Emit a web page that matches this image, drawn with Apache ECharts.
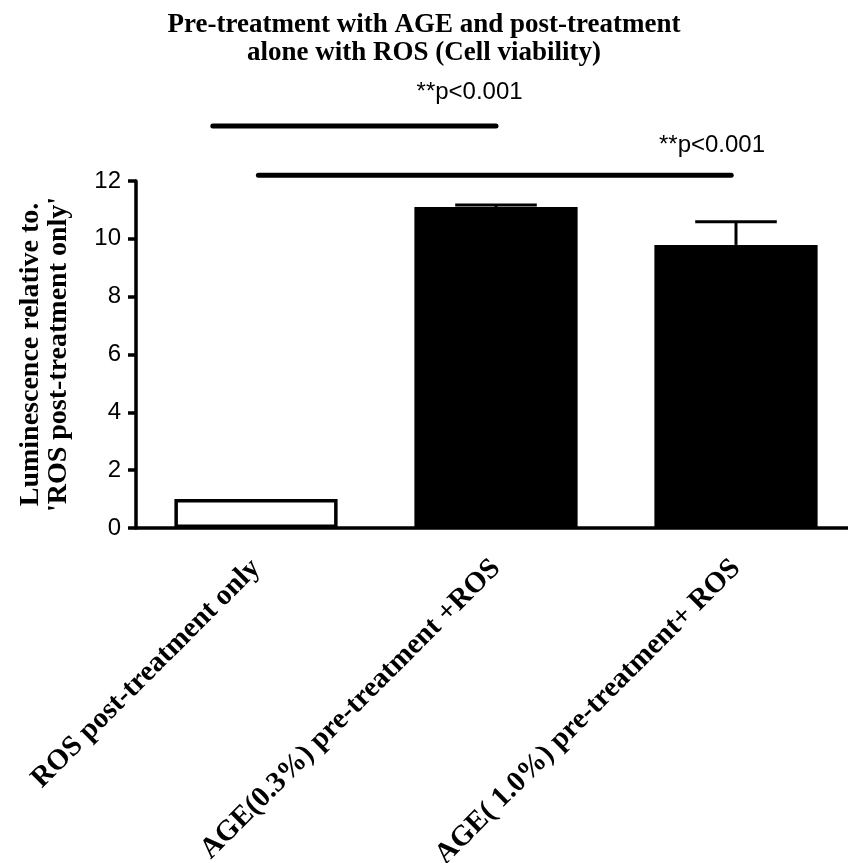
<!DOCTYPE html>
<html>
<head>
<meta charset="utf-8">
<script src="https://cdn.jsdelivr.net/npm/echarts@6/dist/echarts.min.js"></script>
<style>html,body{margin:0;padding:0;background:#fff}#c{width:848px;height:863px}</style>
</head>
<body>
<div id="c"></div>
<script>
const categories = ["ROS post-treatment only", "AGE(0.3%) pre-treatment +ROS", "AGE( 1.0%) pre-treatment+ ROS"];
const means = [1.0, 11.1, 9.79];
const sems = [0.0, 0.07, 0.8];
const barColors = ["#ffffff", "#000000", "#000000"];
const yTicks = [0, 2, 4, 6, 8, 10, 12];
// significance brackets (category positions and y values in data units)
const sigFrom = [-0.18, 0.01];
const sigTo = [1, 1.98];
const sigY = [13.9, 12.2];
const sigLabels = ["**p<0.001", "**p<0.001"];
const sigLabelX = [0.89, 1.9];
const sigLabelY = [15.05, 13.22];

const chart = echarts.init(document.getElementById('c'));
const serif = '"Liberation Serif", "DejaVu Serif", serif';
const sans = '"Liberation Sans", Arial, sans-serif';

function xAt(api, pos) {
  const n = Math.max(0, Math.min(categories.length - 1, Math.round(pos)));
  const base = api.coord([n, 0])[0];
  const bw = api.size([1, 0])[0];
  return base + (pos - n) * bw;
}

chart.setOption({
  animation: false,
  backgroundColor: '#fff',
  title: {
    text: 'Pre-treatment with AGE and post-treatment\nalone with ROS (Cell viability)',
    left: 'center', top: 6,
    textStyle: { fontFamily: serif, fontWeight: 'bold', fontSize: 27, lineHeight: 28, color: '#000' }
  },
  grid: { left: 136, top: 181, bottom: 335, width: 720, outerBoundsMode: 'none', containLabel: false },
  xAxis: {
    type: 'category', data: categories,
    axisLine: { lineStyle: { color: '#000', width: 3.5 } },
    axisTick: { alignWithLabel: true, length: 11, lineStyle: { width: 3.5, color: '#000' } },
    axisLabel: { rotate: 45, margin: 36, interval: 0, fontFamily: serif, fontWeight: 'bold', fontSize: 29, color: '#000' }
  },
  yAxis: {
    type: 'value', min: 0, max: 12, interval: 2,
    name: 'Luminescence relative to.\n\'ROS post-treatment only\'',
    nameLocation: 'middle', nameRotate: 90, nameGap: 63,
    nameTextStyle: { fontFamily: serif, fontWeight: 'bold', fontSize: 28, lineHeight: 28, color: '#000' },
    axisLine: { show: true, lineStyle: { color: '#000', width: 3.5 } },
    axisTick: { show: true, length: 8, lineStyle: { width: 3.5, color: '#000' } },
    axisLabel: { fontFamily: sans, fontSize: 24, color: '#000', margin: 15,
      formatter: v => yTicks.includes(v) ? String(v) : '' },
    splitLine: { show: false }
  },
  series: [
    {
      type: 'bar', barWidth: '68%',
      data: means.map((v, i) => ({ value: v, itemStyle: { color: barColors[i], borderColor: '#000', borderWidth: 3.5 } })),
      z: 2
    },
    {
      type: 'custom', clip: false, z: 3,
      data: means.map((v, i) => [i, v, sems[i]]),
      renderItem: (params, api) => {
        const i = api.value(0), m = api.value(1), s = api.value(2);
        if (!s) return null;
        const top = api.coord([i, m + s]);
        const base = api.coord([i, m]);
        const cap = api.size([1, 0])[0] * 0.34;
        return { type: 'group', children: [
          { type: 'line', shape: { x1: top[0], y1: base[1], x2: top[0], y2: top[1] }, style: { stroke: '#000', lineWidth: 3 } },
          { type: 'line', shape: { x1: top[0] - cap / 2, y1: top[1], x2: top[0] + cap / 2, y2: top[1] }, style: { stroke: '#000', lineWidth: 3 } }
        ]};
      }
    },
    {
      type: 'custom', clip: false, z: 4,
      data: sigY.map((y, k) => [k]),
      renderItem: (params, api) => {
        const k = params.dataIndex;
        const x1 = xAt(api, sigFrom[k]), x2 = xAt(api, sigTo[k]);
        const y = api.coord([0, sigY[k]])[1];
        const lx = xAt(api, sigLabelX[k]);
        const ly = api.coord([0, sigLabelY[k]])[1];
        return { type: 'group', children: [
          { type: 'line', shape: { x1: x1, y1: y, x2: x2, y2: y }, style: { stroke: '#000', lineWidth: 5, lineCap: 'round' } },
          { type: 'text', style: { x: lx, y: ly, text: sigLabels[k], fill: '#000', font: '24px ' + sans, textAlign: 'center', textVerticalAlign: 'middle' } }
        ]};
      }
    }
  ]
});
</script>
</body>
</html>
